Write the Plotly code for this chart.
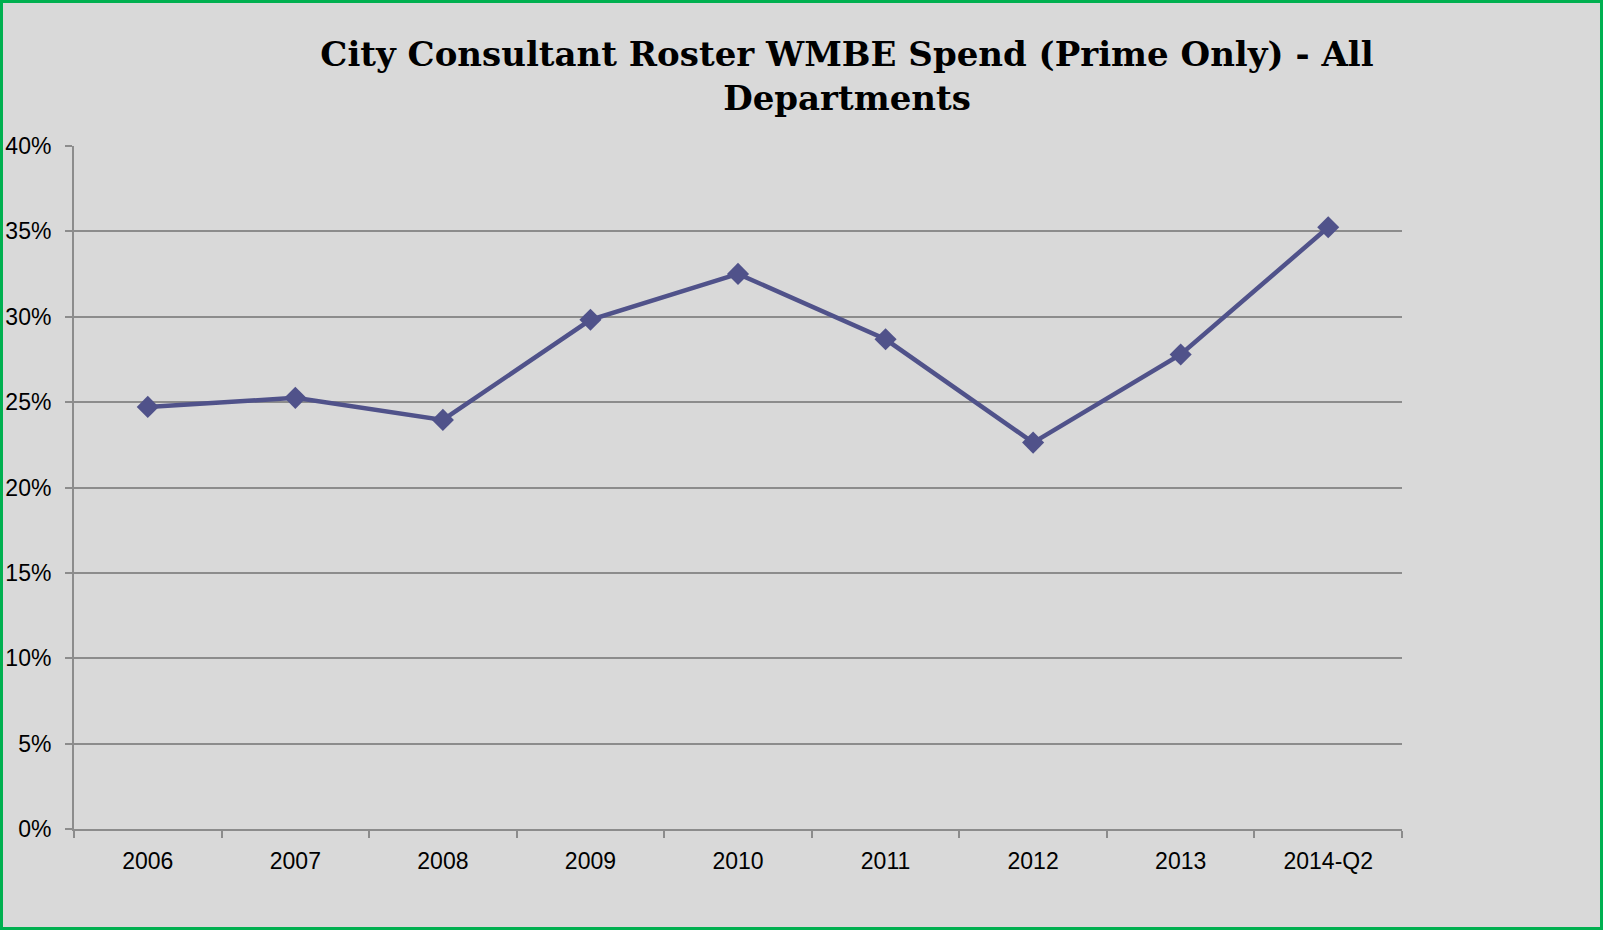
import plotly.graph_objects as go

categories = ["2006", "2007", "2008", "2009", "2010", "2011", "2012", "2013", "2014-Q2"]
wmbe_share = [0.2472, 0.2525, 0.2396, 0.2982, 0.3251, 0.2868, 0.2263, 0.2779, 0.3524]
y_ticks = [0, 0.05, 0.10, 0.15, 0.20, 0.25, 0.30, 0.35, 0.40]
title_text = "City Consultant Roster WMBE Spend (Prime Only) - All<br>Departments"

W, H = 1603, 930
L, R, T, B = 74, 201, 146, 101
pw, ph = W - L - R, H - T - B

fig = go.Figure()
fig.add_trace(go.Scatter(
    x=categories, y=wmbe_share, mode="lines+markers",
    line=dict(color="#50528A", width=4.5),
    marker=dict(symbol="diamond", size=17, color="#50528A"),
    cliponaxis=False, showlegend=False,
))

# green frame around the whole image (paper coords derived from margins)
bw = 3
fig.add_shape(type="rect", xref="paper", yref="paper",
              x0=(bw / 2 - L) / pw, x1=(W - bw / 2 - L) / pw,
              y0=-(B - bw / 2) / ph, y1=(H - B - bw / 2) / ph,
              line=dict(color="#00B050", width=bw), layer="above")

fig.update_layout(
    width=W, height=H,
    margin=dict(l=L, r=R, t=T, b=B, pad=0, autoexpand=False),
    paper_bgcolor="#D9D9D9", plot_bgcolor="#D9D9D9",
    title=dict(text=title_text, x=847 / W, xanchor="center",
               y=1 - 66 / H, yanchor="middle",
               font=dict(family="'DejaVu Serif', Georgia, serif", size=34, color="#000000", weight="bold")),
    font=dict(family="'Liberation Sans', Arial, sans-serif", size=23, color="#000000"),
)
fig.update_xaxes(
    type="category", showgrid=False, showline=True, linecolor="#8C8C8C", linewidth=2,
    ticks="outside", tickson="boundaries", ticklen=7, tickcolor="#8C8C8C", tickwidth=2,
    ticklabelstandoff=10, range=[-0.5, 8.5], automargin=False,
)
fig.update_yaxes(
    range=[0, 0.40], tickvals=y_ticks, tickformat=".0%",
    showgrid=True, gridcolor="#8C8C8C", gridwidth=1.6,
    showline=True, linecolor="#8C8C8C", linewidth=2,
    ticks="outside", ticklen=7, tickcolor="#8C8C8C", tickwidth=2,
    ticklabelstandoff=9, zeroline=False, automargin=False,
)

fig.write_html("out.html", config={"displayModeBar": False},
               post_script="document.body.style.margin='0';document.body.style.overflow='hidden';")
